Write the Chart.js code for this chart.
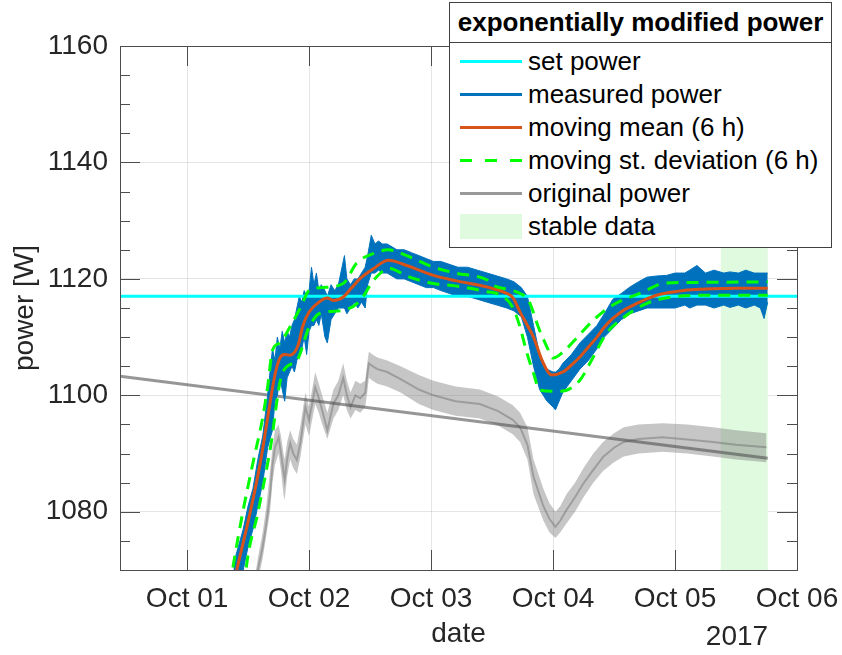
<!DOCTYPE html>
<html>
<head>
<meta charset="utf-8">
<title>exponentially modified power</title>
<script src="https://cdn.jsdelivr.net/npm/chart.js@4.4.1/dist/chart.umd.min.js"></script>
<style>
  body { margin: 0; background: #fff; }
  #wrap { position: relative; width: 842px; height: 655px; }
  #legend {
    position: absolute; left: 449px; top: 2px; width: 381px;
    background: #fff; border: 1px solid #404040;
    font-family: 'Liberation Sans', Arial, sans-serif; color: #000;
  }
  #legend .title {
    font-weight: bold; font-size: 26px; height: 39px; line-height: 39px;
    text-align: center; border-bottom: 1px solid #404040;
  }
  #legend .rows { padding: 2px 0 4px 0; }
  #legend .row { display: flex; align-items: center; height: 33px; font-size: 26px; }
  #legend .sample { width: 62px; margin-left: 10px; margin-right: 6px; }
</style>
</head>
<body>
<div id="wrap">
  <canvas id="chart" width="842" height="655"></canvas>
  <div id="legend"></div>
</div>
<script>
// x values are days counted from Oct 01 2017 00:00
const dayTicks = [0, 1, 2, 3, 4, 5];
const dayLabels = ['Oct 01', 'Oct 02', 'Oct 03', 'Oct 04', 'Oct 05', 'Oct 06'];
const powerTicks = [1080, 1100, 1120, 1140, 1160];
const powerMinorTicks = [1075, 1085, 1090, 1095, 1105, 1110, 1115, 1125, 1130, 1135, 1145, 1150, 1155];

const setPowerDays = [-0.55, 5];
const setPower = [1117, 1117];

// measured power is very noisy, so it is kept as an upper / lower envelope
const measuredDays = [0.38, 0.42, 0.46, 0.50, 0.54, 0.58, 0.62, 0.66, 0.70, 0.72, 0.74, 0.76, 0.78, 0.80, 0.82,
  0.84, 0.86, 0.88, 0.90, 0.92, 0.94, 0.96, 0.98, 1.00, 1.02, 1.04, 1.06, 1.08, 1.10, 1.13, 1.15, 1.18, 1.21,
  1.24, 1.27, 1.29, 1.31, 1.34, 1.37, 1.40, 1.43, 1.46, 1.48, 1.51, 1.54, 1.57, 1.60, 1.64, 1.68, 1.72, 1.78,
  1.84, 1.90, 1.96, 2.02, 2.08, 2.15, 2.22, 2.30, 2.38, 2.46, 2.54, 2.62, 2.68, 2.74, 2.79, 2.84, 2.89, 2.95,
  3.00, 3.02, 3.05, 3.08, 3.15, 3.22, 3.29, 3.36, 3.42, 3.49, 3.56, 3.63, 3.70, 3.77, 3.85, 3.93, 4.00, 4.08,
  4.12, 4.18, 4.25, 4.32, 4.40, 4.45, 4.52, 4.58, 4.65, 4.70, 4.73, 4.76];
const measuredHigh = [1071, 1074, 1077, 1081, 1084, 1089, 1093, 1100, 1108, 1106, 1110, 1108, 1111, 1109, 1111,
  1110, 1112, 1113, 1115, 1117, 1116, 1118, 1117, 1118, 1122, 1119, 1121, 1118, 1119, 1118, 1117, 1119, 1118,
  1119, 1122, 1124, 1120, 1119, 1120, 1120, 1121, 1122, 1124, 1127.5, 1126, 1126.5, 1126, 1126, 1125.5, 1125, 1125,
  1124.5, 1124, 1123.5, 1123, 1123, 1122.5, 1122, 1122, 1121.5, 1121, 1120.5, 1120, 1119.5, 1118.5, 1117, 1112, 1107, 1104.5,
  1104, 1104, 1104.5, 1105.5, 1107, 1109, 1110.5, 1112, 1114, 1116.5, 1117.5, 1118.6, 1119.5, 1120.3, 1120.5, 1120.6, 1121, 1121,
  1121.5, 1122.3, 1121, 1121.5, 1121, 1121.2, 1121, 1121.5, 1121, 1121, 1121, 1121];
const measuredLow = [1064, 1067, 1070, 1074, 1077, 1081, 1085, 1091, 1094, 1099, 1100, 1103, 1101, 1099, 1103,
  1104, 1105, 1104, 1106, 1107, 1108, 1110, 1107, 1111, 1112, 1112, 1113, 1112, 1114, 1110, 1109, 1113, 1114,
  1115, 1115, 1115, 1114, 1115, 1116, 1115, 1116, 1115, 1119, 1121, 1121, 1121.5, 1121, 1121, 1120.5, 1120, 1120,
  1119.5, 1119, 1118.5, 1118.5, 1118, 1117.5, 1117, 1117, 1116.5, 1116, 1115.5, 1115, 1114.5, 1113.5, 1110, 1105, 1101, 1099,
  1098, 1097.5, 1099, 1100.5, 1102.5, 1104.5, 1106, 1108, 1110, 1111.5, 1113, 1114, 1114.5, 1115, 1115, 1115, 1115, 1115.5,
  1115, 1115.5, 1115.5, 1115, 1115.5, 1115.1, 1115.5, 1115, 1115.5, 1115, 1113.2, 1116];

const meanDays = [0.36, 0.41, 0.516, 0.6, 0.68, 0.72, 0.76, 0.80, 0.845, 0.91, 0.95, 1.0, 1.08, 1.15, 1.2, 1.28,
  1.35, 1.42, 1.53, 1.65, 1.8, 2.02, 2.2, 2.46, 2.6, 2.67, 2.73, 2.79, 2.84, 2.91, 2.96, 2.99, 3.08, 3.15, 3.22,
  3.29, 3.36, 3.42, 3.49, 3.57, 3.66, 3.75, 3.85, 4.0, 4.1, 4.3, 4.5, 4.76];
const meanPower = [1066, 1070.3, 1079.8, 1088.4, 1098.7, 1103.5, 1106.4, 1107, 1106.9, 1108.6, 1112, 1114.3, 1116,
  1116.7, 1116.3, 1116.9, 1118.5, 1120.1, 1121.8, 1123.2, 1122.3, 1120.6, 1119.7, 1118.6, 1117.7, 1116.8, 1114.3,
  1112, 1110, 1106, 1104, 1103.5, 1104, 1105.2, 1106.6, 1108.3, 1110, 1111.7, 1113.2, 1114.5, 1115.5, 1116.4,
  1117.2, 1117.8, 1118.1, 1118.3, 1118.4, 1118.4];

const stdUpperDays = [0.35, 0.38, 0.46, 0.54, 0.62, 0.66, 0.70, 0.76, 0.85, 0.93, 1.0, 1.1, 1.28, 1.39, 1.56, 1.65,
  1.8, 2.02, 2.2, 2.46, 2.51, 2.65, 2.73, 2.80, 2.88, 2.95, 3.0, 3.08, 3.2, 3.33, 3.49, 3.71, 3.93, 4.18, 4.76];
const stdUpper = [1067, 1071, 1080.3, 1088.4, 1096.2, 1101.4, 1107.7, 1109, 1112, 1115.1, 1118, 1118.5, 1119.2,
  1122.7, 1124.6, 1125, 1124, 1122, 1121, 1119.8, 1118.9, 1118.1, 1117.5, 1116.3, 1111.7, 1108.3, 1106.4, 1107.4,
  1110, 1112.9, 1115.5, 1117.5, 1119.3, 1119.4, 1119.5];

const stdLowerDays = [0.47, 0.49, 0.58, 0.68, 0.78, 0.9, 1.0, 1.09, 1.28, 1.42, 1.53, 1.66, 1.8, 2.02, 2.2, 2.46,
  2.57, 2.67, 2.73, 2.78, 2.84, 2.89, 3.06, 3.22, 3.33, 3.44, 3.58, 3.77, 3.98, 4.31, 4.76];
const stdLower = [1067, 1071.2, 1079.8, 1090.6, 1103.8, 1106, 1111.7, 1114.1, 1114.6, 1116.3, 1119.8, 1121.8,
  1120.5, 1119.2, 1118.8, 1117.8, 1117.2, 1115.1, 1111.7, 1107.7, 1103.8, 1100.9, 1100.7, 1102.6, 1106.6, 1110.7,
  1113.4, 1115.8, 1116.9, 1117.2, 1117.2];

// original power: centre line plus the spread of its noise
const originalDays = [0.55, 0.58, 0.62, 0.65, 0.68, 0.70, 0.72, 0.75, 0.77, 0.79, 0.80, 0.82, 0.845, 0.87, 0.90,
  0.93, 0.97, 1.00, 1.05, 1.08, 1.10, 1.15, 1.20, 1.24, 1.28, 1.31, 1.34, 1.38, 1.42, 1.46, 1.48, 1.49, 1.52, 1.56,
  1.64, 1.75, 1.90, 2.02, 2.20, 2.40, 2.55, 2.67, 2.73, 2.79, 2.84, 2.92, 2.97, 3.02, 3.06, 3.11, 3.18, 3.25, 3.33,
  3.41, 3.50, 3.58, 3.70, 3.90, 4.10, 4.31, 4.50, 4.75];
const originalPower = [1066, 1070, 1074, 1078, 1083, 1088, 1091, 1092.8, 1090, 1087, 1085.5, 1089, 1091.8, 1090,
  1088.9, 1092, 1098, 1095.7, 1101.4, 1099.5, 1098, 1094, 1098.6, 1100, 1103, 1100, 1098, 1100, 1099.5, 1100.4,
  1104, 1105.5, 1105, 1104.5, 1104, 1102.8, 1101, 1100, 1099, 1098.5, 1097.3, 1095.8, 1094.5, 1091.5, 1086,
  1081, 1078.8, 1077.4, 1078.5, 1080.3, 1082.5, 1084.9, 1087.2, 1089.4, 1091, 1092, 1092.5, 1092.8, 1092.4,
  1092, 1091.5, 1091.1];
const originalHigh = [1068, 1072, 1076.5, 1081, 1087, 1091, 1094, 1095, 1093, 1090, 1089, 1092, 1094, 1092.5,
  1091.5, 1095, 1100.5, 1098, 1104, 1102, 1100.5, 1097, 1101, 1102.5, 1105.5, 1102.5, 1100.5, 1102.5, 1102, 1102.5,
  1106, 1107.5, 1107, 1106.5, 1106, 1105, 1103.5, 1102.5, 1101.5, 1101, 1099.8, 1098.3, 1097, 1094.5, 1089,
  1084, 1081.5, 1080, 1081, 1083, 1085, 1087.5, 1090, 1092, 1093.5, 1094.5, 1095, 1095.2, 1095,
  1094.5, 1094, 1093.5];
const originalLow = [1064, 1068, 1072, 1076, 1080, 1085, 1088, 1090, 1087, 1083, 1082, 1086, 1089, 1087.5,
  1086.5, 1089.5, 1095, 1093, 1098.5, 1097, 1095.5, 1092.5, 1096, 1097.5, 1100, 1097.5, 1096, 1097.5, 1097, 1098,
  1101, 1103, 1102.5, 1102, 1101.5, 1100.5, 1098.5, 1097.5, 1096.5, 1096, 1094.8, 1093.3, 1092, 1089, 1083,
  1078.5, 1076.5, 1075.5, 1076.5, 1078, 1080, 1082.5, 1085, 1087, 1088.5, 1089.5, 1090, 1090.3, 1090,
  1089.5, 1089, 1088.5];

const trendDays = [-0.55, 4.76];
const trendPower = [1103.3, 1089.2];

const stableRange = [4.375, 4.76];

const fontFamily = "'Liberation Sans', Arial, Helvetica, sans-serif";
const axisColor = '#262626';

function pts(xs, ys) {
  return xs.map((x, i) => ({ x: x, y: ys[i] }));
}

// draws the stable data patch, the box round the axes, inward ticks and the year label
const matlabAxes = {
  id: 'matlabAxes',
  beforeDatasetsDraw(chart) {
    const { ctx, chartArea, scales } = chart;
    const x0 = scales.x.getPixelForValue(stableRange[0]);
    const x1 = scales.x.getPixelForValue(stableRange[1]);
    ctx.save();
    ctx.fillStyle = 'rgb(224, 250, 224)';
    ctx.fillRect(x0, chartArea.top, x1 - x0, chartArea.bottom - chartArea.top);
    ctx.restore();
  },
  afterDraw(chart) {
    const { ctx, chartArea: a, scales } = chart;
    ctx.save();
    ctx.strokeStyle = '#4d4d4d';
    ctx.lineWidth = 1;
    ctx.beginPath();
    dayTicks.forEach(d => {
      const x = Math.round(scales.x.getPixelForValue(d)) + 0.5;
      ctx.moveTo(x, a.bottom); ctx.lineTo(x, a.bottom - 20);
      ctx.moveTo(x, a.top); ctx.lineTo(x, a.top + 20);
    });
    powerTicks.forEach(v => {
      const y = Math.round(scales.y.getPixelForValue(v)) + 0.5;
      ctx.moveTo(a.left, y); ctx.lineTo(a.left + 20, y);
      ctx.moveTo(a.right, y); ctx.lineTo(a.right - 20, y);
    });
    powerMinorTicks.forEach(v => {
      const y = Math.round(scales.y.getPixelForValue(v)) + 0.5;
      ctx.moveTo(a.left, y); ctx.lineTo(a.left + 10, y);
      ctx.moveTo(a.right, y); ctx.lineTo(a.right - 10, y);
    });
    ctx.stroke();
    ctx.strokeRect(Math.round(a.left) + 0.5, Math.round(a.top) + 0.5,
      Math.round(a.right - a.left), Math.round(a.bottom - a.top));

    ctx.fillStyle = axisColor;
    ctx.font = '28px ' + fontFamily;
    ctx.textAlign = 'center';
    ctx.textBaseline = 'middle';
    ctx.fillText('2017', a.right - 60, 637);
    ctx.restore();
  }
};

const chart = new Chart(document.getElementById('chart'), {
  type: 'line',
  data: {
    datasets: [
      {
        label: 'moving st. deviation (6 h)',
        data: pts(stdUpperDays, stdUpper),
        borderColor: '#00ff00', borderWidth: 3, borderDash: [12, 8],
        cubicInterpolationMode: 'monotone', order: 0
      },
      {
        label: 'moving st. deviation lower',
        data: pts(stdLowerDays, stdLower),
        borderColor: '#00ff00', borderWidth: 3, borderDash: [12, 8],
        cubicInterpolationMode: 'monotone', order: 0
      },
      {
        label: 'moving mean (6 h)',
        data: pts(meanDays, meanPower),
        borderColor: '#D95319', borderWidth: 3,
        cubicInterpolationMode: 'monotone', order: 1
      },
      {
        label: 'set power',
        data: pts(setPowerDays, setPower),
        borderColor: '#00ffff', borderWidth: 3, order: 2
      },
      {
        label: 'measured power',
        data: pts(measuredDays, measuredHigh),
        borderColor: '#0072BD', backgroundColor: '#0072BD', borderWidth: 1,
        fill: '+1', order: 3
      },
      {
        label: 'measured power low',
        data: pts(measuredDays, measuredLow),
        borderColor: '#0072BD', borderWidth: 1, order: 3
      },
      {
        label: 'original power trend',
        data: pts(trendDays, trendPower),
        borderColor: 'rgba(80, 80, 80, 0.6)', borderWidth: 3, order: 4
      },
      {
        label: 'original power',
        data: pts(originalDays, originalPower),
        borderColor: 'rgba(80, 80, 80, 0.35)', borderWidth: 2, order: 5
      },
      {
        label: 'original power high',
        data: pts(originalDays, originalHigh),
        borderColor: 'rgba(128, 128, 128, 0)', backgroundColor: 'rgba(120, 120, 120, 0.42)',
        borderWidth: 0, fill: '+1', order: 6
      },
      {
        label: 'original power low',
        data: pts(originalDays, originalLow),
        borderColor: 'rgba(128, 128, 128, 0)', borderWidth: 0, order: 6
      }
    ]
  },
  options: {
    responsive: false,
    animation: false,
    events: [],
    elements: { point: { radius: 0 }, line: { tension: 0 } },
    layout: { padding: { top: 46, right: 45, left: 0, bottom: 0 } },
    plugins: { legend: { display: false }, tooltip: { enabled: false } },
    scales: {
      x: {
        type: 'linear', min: -0.55, max: 5,
        afterBuildTicks: s => { s.ticks = dayTicks.map(v => ({ value: v })); },
        afterFit: s => { s.height = 85; s.paddingLeft = 0; s.paddingRight = 0; },
        ticks: {
          padding: 12, color: axisColor, font: { family: fontFamily, size: 28 },
          callback: v => dayLabels[dayTicks.indexOf(v)]
        },
        grid: { color: 'rgba(0, 0, 0, 0.1)', drawTicks: false },
        border: { display: false },
        title: {
          display: true, text: 'date', color: axisColor,
          font: { family: fontFamily, size: 28 }, padding: { top: 4, bottom: 4 }
        }
      },
      y: {
        min: 1070, max: 1160,
        afterBuildTicks: s => { s.ticks = powerTicks.map(v => ({ value: v })); },
        afterFit: s => { s.width = 120; },
        ticks: {
          padding: 12, color: axisColor, font: { family: fontFamily, size: 28 },
          callback: v => String(v)
        },
        grid: { color: 'rgba(0, 0, 0, 0.1)', drawTicks: false },
        border: { display: false },
        title: {
          display: true, text: 'power [W]', color: axisColor,
          font: { family: fontFamily, size: 28 }, padding: { top: 8, bottom: 4 }
        }
      }
    }
  },
  plugins: [matlabAxes]
});

// legend box drawn as html, in the same order as the reference
const legendEntries = [
  { label: 'set power', sample: 'height:3px;background:#00ffff' },
  { label: 'measured power', sample: 'height:3px;background:#0072BD' },
  { label: 'moving mean (6 h)', sample: 'height:3px;background:#D95319' },
  { label: 'moving st. deviation (6 h)', sample: 'height:3px;background:repeating-linear-gradient(90deg,#00ff00 0 12px,transparent 12px 25px)' },
  { label: 'original power', sample: 'height:3px;background:#999999' },
  { label: 'stable data', sample: 'height:25px;background:rgb(224,250,224)' }
];
const legend = document.getElementById('legend');
legend.innerHTML = '<div class="title">exponentially modified power</div><div class="rows">' +
  legendEntries.map(e => '<div class="row"><div class="sample" style="' + e.sample + '"></div><span>' + e.label + '</span></div>').join('') +
  '</div>';
</script>
</body>
</html>
